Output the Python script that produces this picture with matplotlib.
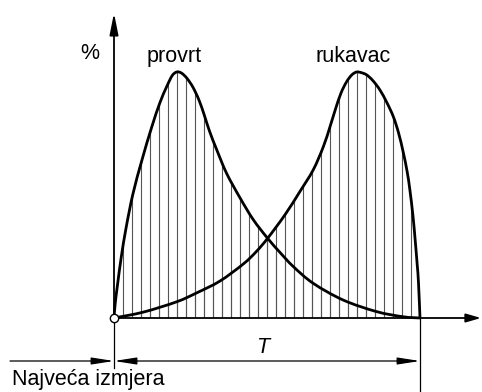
import numpy as np
import matplotlib
matplotlib.use("Agg")
import matplotlib.pyplot as plt
from matplotlib.patches import PathPatch
from matplotlib.path import Path

plt.rcParams['font.family'] = ['Liberation Sans', 'DejaVu Sans']

# x in % of tolerance field T, y in % (peak = 100)
provrt_x = [0, 0.4, 1.2, 2.4, 4.0, 6.2, 9.2, 12.3, 15.0, 17.2, 19.0, 20.5, 22.0, 23.8,
            25.8, 27.8, 29.5, 31.2, 33.6, 36.8, 41.2, 45.5, 50.2, 54.5, 58.6, 65.1,
            74.9, 85.8, 94.5, 100]
provrt_y = [0, 6, 14, 25, 37, 50.5, 64.5, 77.5, 87.5, 94, 98.5, 100, 99.6, 97.5,
            93.8, 88.5, 82.5, 76, 68.3, 58.8, 48.8, 40.0, 32.4, 26.3, 20.9, 14.1,
            7.3, 2.6, 0.5, 0]

rukavac_x = [0, 9.6, 20.5, 27.0, 34.6, 42.3, 46.5, 50.2, 55.9, 60.8, 65.1, 68.4, 70.6,
             72.4, 74.2, 76.0, 77.7, 79.3, 80.9, 82.6, 84.6, 86.9, 89.2, 91.3, 93.0,
             94.5, 95.8, 96.7, 97.7, 98.4, 99.1, 99.5, 100]
rukavac_y = [0, 2.4, 6.6, 10.2, 15.0, 22.0, 27.0, 32.4, 42.0, 51.5, 60.2, 69.6, 77.8,
             85.0, 91.5, 96.0, 98.8, 100, 99.7, 98.8, 96.5, 92.7, 87.5, 81.8, 75.2,
             67.5, 59.5, 52.0, 41.5, 32.0, 21.5, 14.5, 0]

curve_labels = ['provrt', 'rukavac']
n_divisions = 34   # hatch spacing = T / 34

# figure: pixel layout of 482x392, origin at (114, 318), T ends at 420, peak at 72
W, H = 482, 392
ox, oy = 114, 318
sx = (420 - ox) / 100.0
sy = (oy - 72) / 100.0

def px(x):
    return (x - ox) / sx

def py(y):
    return (oy - y) / sy

def smooth_path(xs, ys, close=False):
    # Catmull-Rom through the read points, as cubic bezier segments
    p = np.column_stack([xs, ys]).astype(float)
    ext = np.vstack([p[0], p, p[-1]])
    verts = [p[0]]
    codes = [Path.MOVETO]
    for i in range(1, len(ext) - 2):
        c1 = ext[i] + (ext[i + 1] - ext[i - 1]) / 6.0
        c2 = ext[i + 1] - (ext[i + 2] - ext[i]) / 6.0
        verts += [c1, c2, ext[i + 1]]
        codes += [Path.CURVE4] * 3
    if close:
        verts.append(p[0])
        codes.append(Path.CLOSEPOLY)
    return Path(verts, codes)

fig = plt.figure(figsize=(W / 100, H / 100), dpi=100)
ax = fig.add_axes([0, 0, 1, 1])
ax.set_xlim(px(0), px(W))
ax.set_ylim(py(H), py(0))
ax.axis('off')

# vertical hatching clipped to the area under each curve
hx = np.arange(1, n_divisions) * 100.0 / n_divisions
for cx, cy in [(provrt_x, provrt_y), (rukavac_x, rukavac_y)]:
    area = PathPatch(smooth_path(cx, cy, close=True), transform=ax.transData,
                     facecolor='none', edgecolor='none')
    ax.add_patch(area)
    vl = ax.vlines(hx, 0, 110, colors='#555555', linewidth=0.8, zorder=2)
    vl.set_clip_path(area)

    ax.add_patch(PathPatch(smooth_path(cx, cy), facecolor='none', edgecolor='black',
                           lw=2.0, zorder=4))

def arrow(tail, tip, style, hl, hw, lw):
    ax.annotate('', xy=tip, xytext=tail,
                arrowprops=dict(arrowstyle=f'{style},head_length={hl},head_width={hw}',
                                mutation_scale=1, shrinkA=0, shrinkB=0,
                                color='black', lw=lw))

# axes
arrow((0, 0), (0, py(13)), '-|>', 13, 2.6, 1.3)
arrow((0, 0), (px(481), 0), '-|>', 9, 2.6, 1.3)
ax.plot([0], [0], 'o', ms=6, mfc='white', mec='black', mew=1.0, zorder=6)

# dimension lines
ax.plot([0, 0], [0, py(368)], color='black', lw=0.9)
ax.plot([100, 100], [0, py(H)], color='black', lw=0.9)
arrow((px(10), py(361)), (0, py(361)), '-|>', 13.5, 2.1, 0.9)
arrow((0, py(361)), (100, py(361)), '<|-|>', 13.5, 2.1, 0.9)
arrow((px(395), py(392.5)), (100, py(392.5)), '-|>', 13.5, 2.1, 0.9)

fs = 15.5
ax.text(px(90), py(59), '%', fontsize=fs, ha='center', va='baseline')
ax.text(px(174.5), py(62), curve_labels[0], fontsize=fs, ha='center', va='baseline')
ax.text(px(353.5), py(62), curve_labels[1], fontsize=fs, ha='center', va='baseline')
ax.text(px(263), py(353), 'T', fontsize=fs, style='italic', ha='center', va='baseline')
ax.text(px(12), py(385), 'Najveća izmjera', fontsize=fs, ha='left', va='baseline')

fig.savefig('out.png', dpi=100)
